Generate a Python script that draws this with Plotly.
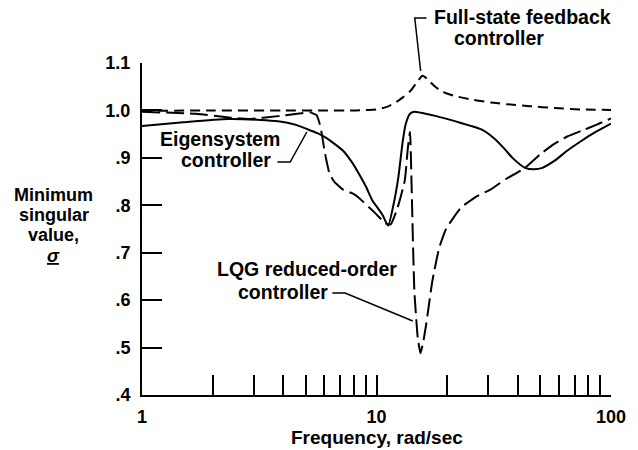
import plotly.graph_objects as go

# ---- data ----
x_fsf = [1, 2, 4, 6, 8, 9, 10, 11, 12, 13, 14, 15, 15.7, 16.5, 17.6, 19, 21.4, 26, 31.6, 36, 45, 57.5, 75, 100]
y_fsf = [0.999, 1.0, 1.0, 1.0, 1.0, 1.001, 1.002, 1.007, 1.016, 1.028, 1.042, 1.062, 1.073, 1.066, 1.052, 1.04,
         1.031, 1.022, 1.016, 1.013, 1.009, 1.005, 1.002, 1.001]

x_eig = [1, 1.5, 2.33, 3.2, 3.8, 4.5, 5.04, 5.6, 6.1, 6.6, 7.2, 7.8, 8.4, 9.0, 9.6, 10.1, 10.6, 11.2, 11.8,
         12.4, 12.9, 13.3, 13.9, 14.5, 15.5, 18, 21.4, 25, 28, 31.6, 35, 38, 43, 47, 51, 57.5, 65, 75, 85, 100]
y_eig = [0.967, 0.975, 0.982, 0.98, 0.977, 0.97, 0.961, 0.952, 0.942, 0.93, 0.915, 0.893, 0.867, 0.84, 0.81,
         0.795, 0.78, 0.757, 0.80, 0.86, 0.93, 0.97, 0.993, 0.997, 0.995, 0.988, 0.978, 0.968, 0.96, 0.942,
         0.92, 0.9, 0.879, 0.876, 0.879, 0.894, 0.915, 0.936, 0.953, 0.972]

x_lqg = [1, 1.7, 2.33, 2.85, 3.8, 4.6, 5.2, 5.55, 5.7, 5.85, 6.0, 6.3, 6.6, 7.2, 7.9, 8.4, 9.9, 10.9, 11.5,
         12.3, 13.2, 13.6, 13.9, 14.1, 14.5, 15.0, 15.4, 15.8, 16.3, 17.3, 18.5, 19.8, 22.9, 27, 30.6, 35.8,
         43, 50, 57.5, 65, 74.8, 87, 100]
y_lqg = [0.997, 0.993, 0.985, 0.982, 0.988, 0.993, 0.996, 0.99, 0.975, 0.95, 0.915, 0.867, 0.85, 0.833, 0.825,
         0.816, 0.783, 0.762, 0.76, 0.795, 0.852, 0.92, 0.955, 0.85, 0.62, 0.52, 0.488, 0.51, 0.55, 0.64, 0.71,
         0.75, 0.795, 0.82, 0.833, 0.856, 0.879, 0.908, 0.93, 0.945, 0.957, 0.97, 0.983]

x_tickvals = [1, 2, 3, 4, 5, 6, 7, 8, 9, 10, 20, 30, 40, 50, 60, 70, 80, 90, 100]
x_ticktext = ["1", "", "", "", "", "", "", "", "", "10", "", "", "", "", "", "", "", "", "100"]
y_tickvals = [0.4, 0.5, 0.6, 0.7, 0.8, 0.9, 1.0, 1.1]
y_ticktext = [".4", ".5", ".6", ".7", ".8", ".9", "1.0", "1.1"]

# ---- layout geometry (pixels) ----
W, H = 638, 450
L, R, T, B = 142, 18, 63, 55
PW, PH = W - L - R, H - T - B

def px(x):
    return (x - L) / PW

def py(y):
    return (H - B - y) / PH

FONT = "Liberation Sans, Arial, Helvetica, sans-serif"

fig = go.Figure()
fig.add_trace(go.Scatter(x=x_fsf, y=y_fsf, mode="lines", name="Full-state feedback controller",
                         line=dict(color="black", width=2, dash="10px,6px", shape="spline", smoothing=0.6)))
fig.add_trace(go.Scatter(x=x_eig, y=y_eig, mode="lines", name="Eigensystem controller",
                         line=dict(color="black", width=2, shape="spline", smoothing=0.6)))
fig.add_trace(go.Scatter(x=x_lqg, y=y_lqg, mode="lines", name="LQG reduced-order controller",
                         line=dict(color="black", width=2, dash="18px,6px", shape="spline", smoothing=0.4)))

fig.update_layout(
    width=W, height=H,
    margin=dict(l=L, r=R, t=T, b=B, pad=0),
    paper_bgcolor="white", plot_bgcolor="white",
    showlegend=False,
    font=dict(family=FONT, size=18, color="black", weight="bold"),
)
fig.update_xaxes(type="log", range=[0, 2], tickvals=x_tickvals, ticktext=x_ticktext,
                 ticks="inside", ticklen=20, tickwidth=1.5, tickcolor="black",
                 showline=True, linecolor="black", linewidth=2, showgrid=False, zeroline=False,
                 tickfont=dict(size=18, family=FONT, weight="bold"), ticklabelstandoff=4)
fig.update_yaxes(range=[0.4, 1.1], tickvals=y_tickvals, ticktext=y_ticktext,
                 ticks="inside", ticklen=20, tickwidth=1.5, tickcolor="black",
                 showline=True, linecolor="black", linewidth=2, showgrid=False, zeroline=False,
                 tickfont=dict(size=18, family=FONT, weight="bold"), ticklabelstandoff=6)

annos = [
    ("Frequency, rad/sec", 381, 437, "center", 19),
    ("Minimum", 52, 195, "center", 18),
    ("singular", 52, 215, "center", 18),
    ("value,", 52, 235, "center", 18),
    ("<i><u>σ</u></i>", 52, 256, "center", 18),
    ("Full-state feedback", 438, 17, "left", 19.5),
    ("controller", 458, 38, "left", 19.5),
    ("Eigensystem", 222, 139, "center", 19.5),
    ("controller", 228, 160, "center", 19.5),
    ("LQG reduced-order", 310, 269, "center", 19.5),
    ("controller", 286, 292, "center", 19.5),
]
for text, x, y, anchor, size in annos:
    fig.add_annotation(text=text, x=px(x), y=py(y), xref="paper", yref="paper",
                       xanchor=anchor, yanchor="middle", showarrow=False,
                       font=dict(size=size, family=FONT, color="black", weight="bold"))

leaders = [
    [(432, 18), (420, 18), (426, 71)],
    [(280, 162), (293, 162), (310, 132)],
    [(336, 293), (349, 293), (418, 321)],
]
for pts in leaders:
    path = "M " + " L ".join(f"{px(a):.5f},{py(b):.5f}" for a, b in pts)
    fig.add_shape(type="path", path=path, xref="paper", yref="paper",
                  line=dict(color="black", width=1.5))

fig.write_html("out.html", config={"displayModeBar": False},
               post_script="document.body.style.margin='0';document.body.style.padding='0';")
